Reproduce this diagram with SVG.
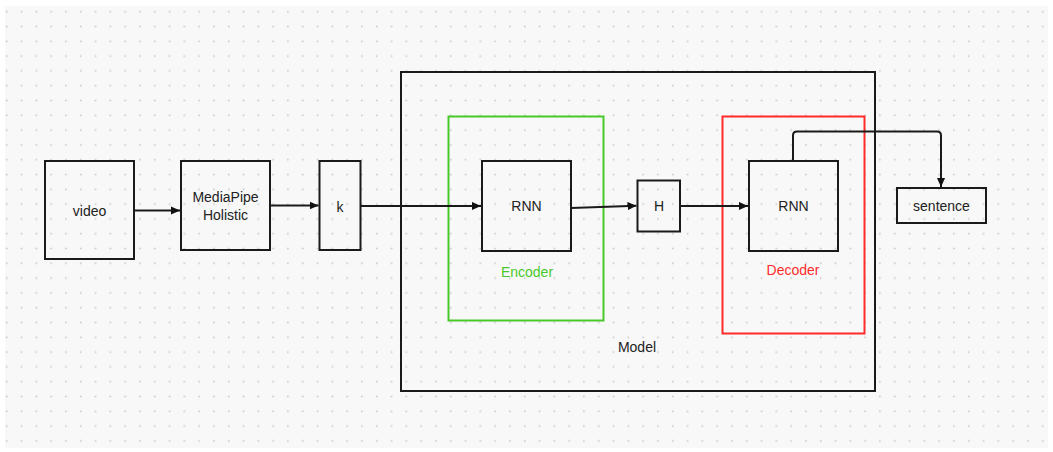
<svg xmlns="http://www.w3.org/2000/svg" width="1053" height="452" viewBox="0 0 1053 452">
  <defs>
    <pattern id="dotgrid" x="0" y="4.3" width="14.8" height="14.8" patternUnits="userSpaceOnUse">
      <circle cx="6.7" cy="7.4" r="0.9" fill="#c9c9c9"/>
    </pattern>
    <marker id="arrow" viewBox="0 0 10 10" refX="10" refY="5" markerWidth="9" markerHeight="9" markerUnits="userSpaceOnUse" orient="auto">
      <path d="M0,0.5 L10,5 L0,9.5 Z" fill="#111"/>
    </marker>
  </defs>
  <style>
    .box { fill: none; stroke: #1a1a1a; stroke-width: 2; }
    .label { font-family: "Liberation Sans", Arial, sans-serif; font-size: 14px; fill: #222; text-anchor: middle; dominant-baseline: central; }
    .wire { fill: none; stroke: #1a1a1a; stroke-width: 2; marker-end: url(#arrow); }
  </style>

  <!-- canvas -->
  <rect x="0" y="0" width="1053" height="452" fill="#ffffff"/>
  <rect x="5" y="6" width="1043" height="442" fill="#f8f8f8"/>
  <rect x="5" y="6" width="1043" height="442" fill="url(#dotgrid)"/>

  <!-- model container -->
  <g id="model">
    <rect class="box" x="401" y="72" width="474" height="319"/>
    <text class="label" x="637" y="347">Model</text>
  </g>

  <g id="encoder">
    <rect x="448.5" y="116.5" width="155" height="204" fill="none" stroke="#47c92a" stroke-width="2"/>
    <text class="label" x="527" y="272" style="fill:#47c92a">Encoder</text>
  </g>

  <g id="decoder">
    <rect x="722.5" y="116.5" width="142" height="217" fill="none" stroke="#ff2b2b" stroke-width="2"/>
    <text class="label" x="793" y="270" style="fill:#ff2b2b">Decoder</text>
  </g>

  <g id="video">
    <rect class="box" x="45" y="161" width="89" height="98"/>
    <text class="label" x="89.5" y="211">video</text>
  </g>

  <g id="mediapipe">
    <rect class="box" x="181" y="161" width="89" height="89"/>
    <text class="label" x="225.5" y="197">MediaPipe</text>
    <text class="label" x="225.5" y="215">Holistic</text>
  </g>

  <g id="k">
    <rect class="box" x="319.5" y="161" width="41" height="89"/>
    <text class="label" x="340" y="206.5">k</text>
  </g>

  <g id="rnn-encoder">
    <rect class="box" x="482" y="161" width="89" height="90"/>
    <text class="label" x="526.5" y="206">RNN</text>
  </g>

  <g id="h">
    <rect class="box" x="637.5" y="180.5" width="42.5" height="51"/>
    <text class="label" x="659" y="206">H</text>
  </g>

  <g id="rnn-decoder">
    <rect class="box" x="749" y="161" width="89" height="90"/>
    <text class="label" x="793.5" y="206">RNN</text>
  </g>

  <g id="sentence">
    <rect class="box" x="897" y="188" width="89" height="35"/>
    <text class="label" x="941.5" y="206">sentence</text>
  </g>

  <!-- connectors -->
  <g id="connectors">
    <path class="wire" d="M134,210.5 L180,210.5"/>
    <path class="wire" d="M270,205.5 L318.5,205.5"/>
    <path class="wire" d="M360.5,206 L481,206"/>
    <path class="wire" d="M571,208 L636.5,205.8"/>
    <path class="wire" d="M680,206 L748,206"/>
    <path class="wire" d="M793,160 L793,135.5 Q793,131.5 797,131.5 L937,131.5 Q941,131.5 941,135.5 L941,187"/>
  </g>
</svg>
